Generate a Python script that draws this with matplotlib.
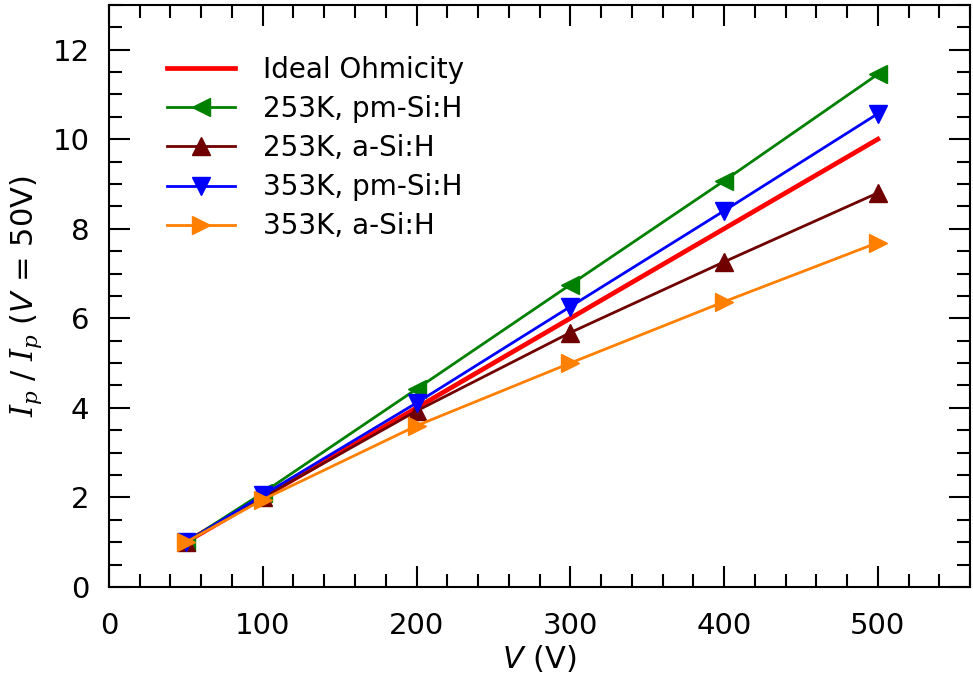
import numpy as np
import matplotlib
matplotlib.use('Agg')
import matplotlib.pyplot as plt
from matplotlib.ticker import MultipleLocator

plt.rcParams['font.family'] = 'DejaVu Sans'
plt.rcParams['mathtext.fontset'] = 'custom'
plt.rcParams['mathtext.it'] = 'DejaVu Serif:italic'
plt.rcParams['mathtext.sf'] = 'DejaVu Sans:italic'
plt.rcParams['mathtext.rm'] = 'DejaVu Sans'

# data
voltage = [50, 100, 200, 300, 400, 500]
ideal = [1, 2, 4, 6, 8, 10]
pm_253 = [1.0, 2.1, 4.42, 6.75, 9.07, 11.45]
a_253 = [1.0, 2.0, 3.93, 5.68, 7.26, 8.80]
pm_353 = [1.0, 2.05, 4.11, 6.26, 8.40, 10.57]
a_353 = [1.0, 1.95, 3.6, 5.0, 6.37, 7.69]

labels = ['Ideal Ohmicity', '253K, pm-Si:H', '253K, a-Si:H',
          '353K, pm-Si:H', '353K, a-Si:H']

fig = plt.figure(figsize=(9.73, 6.93), dpi=100)
ax = fig.add_axes([0.112, 0.153, 0.885, 0.840])

ax.plot(voltage, ideal, color='#ff0000', lw=3.4, label=labels[0])
ax.plot(voltage, pm_253, color='#008000', lw=2.0, marker='<', ms=13, label=labels[1])
ax.plot(voltage, a_253, color='#700000', lw=2.0, marker='^', ms=13, label=labels[2])
ax.plot(voltage, pm_353, color='#0000ff', lw=2.0, marker='v', ms=13, label=labels[3])
ax.plot(voltage, a_353, color='#ff8000', lw=2.0, marker='>', ms=13, label=labels[4])

ax.set_xlim(0, 560)
ax.set_ylim(0, 13)
ax.xaxis.set_major_locator(MultipleLocator(100))
ax.xaxis.set_minor_locator(MultipleLocator(20))
ax.yaxis.set_major_locator(MultipleLocator(2))
ax.yaxis.set_minor_locator(MultipleLocator(0.5))
ax.tick_params(which='both', direction='in', top=True, right=True,
               labelsize=21, width=1.5)
ax.tick_params(axis='x', pad=18)
ax.tick_params(axis='y', pad=14)
ax.tick_params(which='major', length=15)
ax.tick_params(which='minor', length=9.4)
for s in ax.spines.values():
    s.set_linewidth(1.5)

ax.set_xlabel(r'$\mathsf{V}$ (V)', fontsize=22, labelpad=2)
ax.set_ylabel(r'$I_p$ / $I_p$ ($\mathsf{V}$ = 50V)', fontsize=22, labelpad=6)

ax.legend(loc='upper left', frameon=False, fontsize=20, handlelength=2.45,
          handletextpad=1.0, labelspacing=0.4, borderaxespad=0.6,
          bbox_to_anchor=(0.035, 0.96))

fig.savefig('out.png', dpi=100)
